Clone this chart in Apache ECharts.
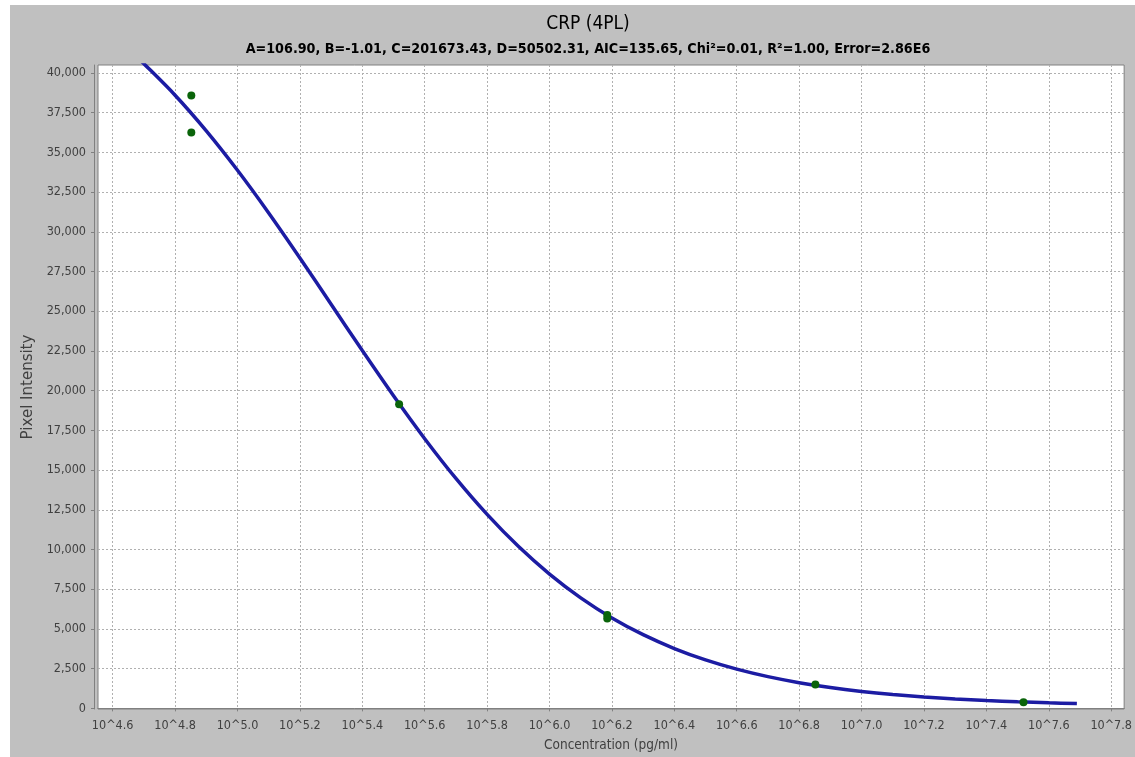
<!DOCTYPE html>
<html>
<head>
<meta charset="utf-8">
<script src="https://cdn.jsdelivr.net/npm/echarts@6/dist/echarts.min.js"></script>
<style>
html,body{margin:0;padding:0;background:#ffffff;}
#chart{width:1135px;height:757px;}
</style>
</head>
<body>
<div id="chart"></div>
<script>
// Fitted 4PL curve (x = log10 concentration)
const curveLogConc = [4.68, 4.7, 4.8, 4.9, 5.0, 5.1, 5.2, 5.3, 5.4, 5.5, 5.6, 5.7, 5.8, 5.9, 6.0, 6.1, 6.2, 6.3, 6.4, 6.5, 6.6, 6.7, 6.8, 6.9, 7.0, 7.1, 7.2, 7.3, 7.4, 7.5, 7.6, 7.69];
const curveIntensity = [40948, 40582, 38599, 36357, 33875, 31190, 28356, 25440, 22522, 19677, 16976, 14473, 12208, 10200, 8453, 6956, 5692, 4638, 3766, 3051, 2469, 1997, 1617, 1311, 1066, 870, 713, 589, 490, 411, 348, 303];
// Standard points
const stdLogConc = [4.852, 4.852, 5.518, 6.185, 6.185, 6.852, 7.519];
const stdIntensity = [38580, 36250, 19150, 5880, 5650, 1505, 380];
// Tick values
const xTickValues = [4.6, 4.8, 5.0, 5.2, 5.4, 5.6, 5.8, 6.0, 6.2, 6.4, 6.6, 6.8, 7.0, 7.2, 7.4, 7.6, 7.8];
const yTickValues = [0, 2500, 5000, 7500, 10000, 12500, 15000, 17500, 20000, 22500, 25000, 27500, 30000, 32500, 35000, 37500, 40000];

const chartTitle = 'CRP (4PL)';
const chartSubtitle = 'A=106.90, B=-1.01, C=201673.43, D=50502.31, AIC=135.65, Chi\u00B2=0.01, R\u00B2=1.00, Error=2.86E6';

const curveData = curveLogConc.map((x, i) => [x, curveIntensity[i]]);
const stdData = stdLogConc.map((x, i) => [x, stdIntensity[i]]);

const FONT = '"DejaVu Sans Condensed", "DejaVu Sans", sans-serif';

const chart = echarts.init(document.getElementById('chart'), null, {renderer: 'canvas'});
chart.setOption({
  animation: false,
  backgroundColor: '#ffffff',
  graphic: [
    {type: 'rect', z: -10, silent: true, shape: {x: 10, y: 5, width: 1125, height: 752}, style: {fill: '#c0c0c0'}}
  ],
  title: [
    {text: chartTitle, left: 583, top: 10, textAlign: 'center',
     textStyle: {fontFamily: FONT, fontSize: 19, fontWeight: 'normal', color: '#000000'}},
    {text: chartSubtitle, left: 583, top: 37, textAlign: 'center',
     textStyle: {fontFamily: FONT, fontSize: 14.2, fontWeight: 'bold', color: '#000000'}}
  ],
  grid: {left: 98, right: 8, top: 65, bottom: 46, show: true, backgroundColor: '#ffffff', borderColor: '#808080', borderWidth: 1, containLabel: false},
  xAxis: {
    type: 'value', min: 4.553, max: 7.8415,
    offset: 2,
    name: 'Concentration (pg/ml)', nameLocation: 'middle', nameGap: 27,
    nameTextStyle: {fontFamily: FONT, fontSize: 13.5, color: '#404040'},
    axisLine: {show: true, lineStyle: {color: '#808080', width: 1}},
    axisTick: {show: true, length: 3, customValues: xTickValues, lineStyle: {color: '#808080'}},
    axisLabel: {customValues: xTickValues, margin: 8, fontFamily: FONT, fontSize: 12.5, color: '#404040',
      formatter: v => '10^' + Number(v).toFixed(1)},
    splitLine: {show: true, lineStyle: {color: '#b0b0b0', type: [2, 2], width: 1}}
  },
  yAxis: {
    type: 'value', min: -40, max: 40500,
    offset: 4,
    name: 'Pixel Intensity', nameLocation: 'middle', nameGap: 51, nameRotate: 90,
    nameTextStyle: {fontFamily: '"DejaVu Sans", sans-serif', fontSize: 15, color: '#404040'},
    axisLine: {show: true, lineStyle: {color: '#808080', width: 1}},
    axisTick: {show: true, length: 3, customValues: yTickValues, lineStyle: {color: '#808080'}},
    axisLabel: {customValues: yTickValues, margin: 8, fontFamily: FONT, fontSize: 12.5, color: '#404040',
      formatter: v => Number(v).toLocaleString('en-US')},
    splitLine: {show: true, lineStyle: {color: '#b0b0b0', type: [2, 2], width: 1}}
  },
  series: [
    {type: 'line', data: curveData, smooth: 0.3, showSymbol: false, clip: true,
     lineStyle: {color: '#1c1ca3', width: 3.5}, z: 2},
    {type: 'scatter', data: stdData, symbol: 'circle', symbolSize: 8,
     itemStyle: {color: '#0a640a', opacity: 1}, z: 3}
  ]
});
</script>
</body>
</html>
